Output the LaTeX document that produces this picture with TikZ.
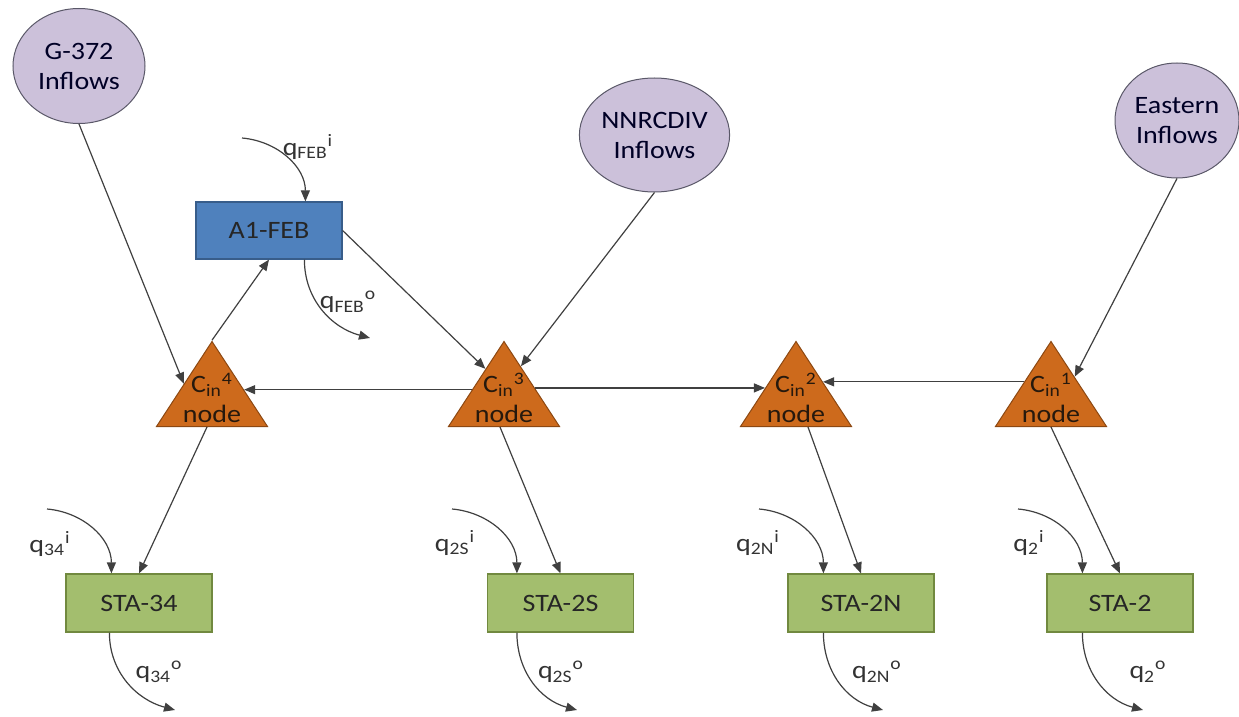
\documentclass[tikz,border=0pt]{standalone}
\usepackage{fontspec}
\setmainfont{Carlito}[FakeStretch=1.12]
\usepackage{tikz}
\usetikzlibrary{shapes.geometric,arrows.meta,calc}
\definecolor{inflowfill}{RGB}{204,193,218}
\definecolor{inflowline}{RGB}{90,88,104}
\definecolor{basinfill}{RGB}{79,129,189}
\definecolor{basinline}{RGB}{56,93,138}
\definecolor{stafill}{RGB}{163,190,110}
\definecolor{staline}{RGB}{113,137,63}
\definecolor{junctfill}{RGB}{205,106,28}
\definecolor{junctline}{RGB}{140,72,18}
\definecolor{flowgray}{RGB}{64,64,64}
\tikzset{>={Triangle[length=5.5pt,width=4.5pt]}}
\tikzstyle{inflow}=[ellipse, draw=inflowline, fill=inflowfill, text=black!85!blue, align=center, inner sep=0pt, line width=0.5pt]
\tikzstyle{basin}=[rectangle, draw=basinline, fill=basinfill, text=black!85, minimum width=73pt, minimum height=28.5pt, line width=0.6pt]
\tikzstyle{station}=[rectangle, draw=staline, fill=stafill, text=black!85, minimum width=73pt, minimum height=29pt, line width=0.6pt]
\tikzstyle{junction}=[isosceles triangle, shape border rotate=90, isosceles triangle stretches, minimum width=55.5pt, minimum height=42.5pt, inner sep=0pt, draw=junctline, fill=junctfill, anchor=lower side, line width=0.5pt]
\tikzstyle{jtext}=[align=center, text=black!80!brown, inner sep=0pt]
\tikzstyle{flow}=[draw=flowgray, line width=0.6pt]
\tikzstyle{qlabel}=[text=black!80, inner sep=0pt]
\newcommand{\jlabel}[1]{C\textsubscript{in}\textsuperscript{#1}\\node}
\newcommand{\qflow}[2]{q\textsubscript{#1}\textsuperscript{#2}}

\begin{document}
\begin{tikzpicture}[x=0.5pt, y=0.5pt, font=\fontsize{12.5}{15}\selectfont]
\useasboundingbox (0,0) rectangle (1239,-717);
% inflow sources
\node[inflow, minimum width=66pt, minimum height=57.5pt] (g372) at (79,-66) {G-372\\Inflows};
\node[inflow, minimum width=73.5pt, minimum height=57pt] (nnr) at (654.5,-135) {NNRCDIV\\Inflows};
\node[inflow, minimum width=62pt, minimum height=57.5pt] (east) at (1177,-120.5) {Eastern\\Inflows};
% basin
\node[basin] (feb) at (269,-230.5) {A1-FEB};
% junction nodes
\node[junction] (c4) at (212,-427) {};
\node[junction] (c3) at (504,-427) {};
\node[junction] (c2) at (796,-427) {};
\node[junction] (c1) at (1051,-427) {};
\node[jtext] (c4txt) at (212,-398) {\jlabel{4}};
\node[jtext] (c3txt) at (504,-398) {\jlabel{3}};
\node[jtext] (c2txt) at (796,-398) {\jlabel{2}};
\node[jtext] (c1txt) at (1051,-398) {\jlabel{1}};
% stations
\node[station] (sta34) at (139,-603) {STA-34};
\node[station] (sta2s) at (560.5,-603) {STA-2S};
\node[station] (sta2n) at (861,-603) {STA-2N};
\node[station] (sta2) at (1120,-603) {STA-2};

\path [every edge/.append style={->,flow}]
(g372.south) edge (c4.left side)
(c4.apex) edge (feb.south)
(feb.east) edge ($(c3.apex)!0.33!(c3.left corner)$)
(nnr.south) edge ($(c3.apex)!0.3!(c3.right corner)$)
($(c3.apex)!0.57!(c3.left corner)$) edge ($(c4.apex)!0.57!(c4.right corner)$)
($(c3.apex)!0.55!(c3.right corner)$) edge ($(c2.apex)!0.55!(c2.left corner)$)
($(c1.apex)!0.48!(c1.left corner)$) edge ($(c2.apex)!0.48!(c2.right corner)$)
(east.south) edge ($(c1.apex)!0.42!(c1.right corner)$)
([xshift=-2.5pt]c4.lower side) edge (sta34.north)
([xshift=-2pt]c3.lower side) edge (sta2s.north)
([xshift=6pt]c2.lower side) edge (sta2n.north)
(c1.lower side) edge (sta2.north);

% local inflows and outflows
\coordinate (febin) at (242,-138);
\coordinate (febout) at (370,-338);
\coordinate (q34in) at (47,-509);
\coordinate (q34out) at (175,-710);
\coordinate (q2sin) at (452,-509);
\coordinate (q2sout) at (577,-710);
\coordinate (q2nin) at (759,-509);
\coordinate (q2nout) at (883,-710);
\coordinate (q2in) at (1018,-509);
\coordinate (q2out) at (1143,-710);
\draw [->,flow] (febin) to [out=-5,in=90] ([xshift=55pt]feb.north west);
\draw [->,flow] ([xshift=54.5pt]feb.south west) to [out=-90,in=165] (febout);
\draw [->,flow] (q34in) to [out=-5,in=90] ([xshift=23pt]sta34.north west);
\draw [->,flow] ([xshift=22pt]sta34.south west) to [out=-90,in=165] (q34out);
\draw [->,flow] (q2sin) to [out=-5,in=90] ([xshift=15pt]sta2s.north west);
\draw [->,flow] ([xshift=15pt]sta2s.south west) to [out=-90,in=165] (q2sout);
\draw [->,flow] (q2nin) to [out=-5,in=90] ([xshift=18pt]sta2n.north west);
\draw [->,flow] ([xshift=18pt]sta2n.south west) to [out=-90,in=165] (q2nout);
\draw [->,flow] (q2in) to [out=-5,in=90] ([xshift=18pt]sta2.north west);
\draw [->,flow] ([xshift=18pt]sta2.south west) to [out=-90,in=165] (q2out);

\node[qlabel] (lfebi) at (308,-147) {\qflow{FEB}{i}};
\node[qlabel] (lfebo) at (348,-302) {\qflow{FEB}{o}};
\node[qlabel] (l34i) at (50,-544) {\qflow{34}{i}};
\node[qlabel] (l34o) at (159,-672) {\qflow{34}{o}};
\node[qlabel] (l2si) at (455,-543) {\qflow{2S}{i}};
\node[qlabel] (l2so) at (561,-672) {\qflow{2S}{o}};
\node[qlabel] (l2ni) at (758,-543) {\qflow{2N}{i}};
\node[qlabel] (l2no) at (877,-672) {\qflow{2N}{o}};
\node[qlabel] (l2i) at (1029,-543) {\qflow{2}{i}};
\node[qlabel] (l2o) at (1148,-672) {\qflow{2}{o}};
\end{tikzpicture}
\end{document}
